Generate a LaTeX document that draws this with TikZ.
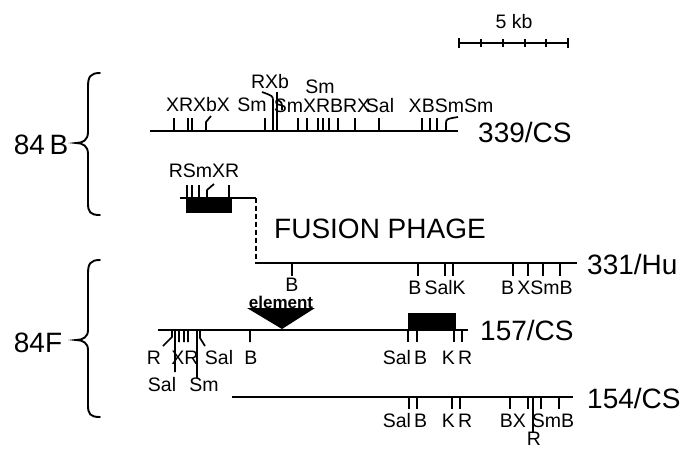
\documentclass[tikz,border=0pt]{standalone}
\usepackage{fontspec}
\setmainfont{Liberation Sans}
\tikzset{
  mapline/.style={line width=2.6pt, line cap=butt},
  site/.style={line width=1.7pt, line cap=butt, line join=round},
  sitelabel/.style={font=\fontsize{19.5}{19.5}\selectfont, inner sep=0pt},
  clonelabel/.style={font=\fontsize{28}{28}\selectfont, inner sep=0pt},
  insert/.style={fill=black},
  bracket/.style={line width=1.9pt, line cap=round},
}
\begin{document}
\begin{tikzpicture}[x=1pt, y=-1pt]
\useasboundingbox (0,0) rectangle (697,451);
% scale bar
\draw[site] (459,43) -- (568,43);
\draw[site] (459,38) -- (459,48) (481,39) -- (481,47) (503,39) -- (503,47)
  (525,39) -- (525,47) (546,39) -- (546,47) (568,38) -- (568,48);
\node[sitelabel] (kb) at (514,22) {5 kb};
% braces
\draw[bracket] (100,73) .. controls (90,73) and (88,77) .. (88,87) -- (88,132)
  .. controls (88,140) and (83,143) .. (76,143) .. controls (83,143) and (88,146) .. (88,154)
  -- (88,203) .. controls (88,212) and (90,215) .. (100,215);
\node[clonelabel] (b84) at (41,145) {84\,B};
\draw[bracket] (100,260) .. controls (90,260) and (88,264) .. (88,274) -- (88,330)
  .. controls (88,337) and (83,340) .. (76,340) .. controls (83,340) and (88,343) .. (88,350)
  -- (88,405) .. controls (88,414) and (90,417) .. (100,417);
\node[clonelabel] (f84) at (38,343) {84F};
% 339/CS
\draw[mapline] (150,131) -- (458,131);
\draw[site] (174,131) -- ++(0,-13) (188,131) -- ++(0,-13) (192,131) -- ++(0,-13)
  (206,131) -- (206,122) -- (211,116);
\draw[site] (265,131) -- ++(0,-13)
  (273,131) -- (273,101) .. controls (273,96) .. (262,92)
  (277,131) -- (277,92)
  (277,100) .. controls (282,102) .. (282,110);
\draw[site] (298,131) -- ++(0,-13) (307,131) -- ++(0,-13) (318,131) -- ++(0,-13)
  (323,131) -- ++(0,-13) (329,131) -- ++(0,-13) (338,131) -- ++(0,-13)
  (355,131) -- ++(0,-13) (379,131) -- ++(0,-13) (422,131) -- ++(0,-13)
  (430,131) -- ++(0,-13) (437,131) -- ++(0,-13)
  (446,131) -- (446,124) .. controls (446,119) .. (458,117);
\node[sitelabel] (l1) at (198,105) {XRXbX};
\node[sitelabel] (l2) at (252,105) {Sm};
\node[sitelabel] (l3) at (270,82) {RXb};
\node[sitelabel] (l4) at (320,87) {Sm};
\node[sitelabel] (l5) at (322,106) {SmXRBRX};
\node[sitelabel] (l6) at (380,106) {Sal};
\node[sitelabel] (l7) at (451,106) {XBSmSm};
\node[clonelabel, anchor=west] (cs339) at (478,132) {339/CS};
% fusion phage
\draw[mapline] (180,198) -- (256,198);
\fill[insert] (186,198) rectangle (232,213);
\draw[site] (187,198) -- ++(0,-13) (192,198) -- ++(0,-13) (199,198) -- ++(0,-13)
  (207,198) -- (207,190) -- (214,184) (229,198) -- ++(0,-13);
\node[sitelabel] (l8) at (204,171) {RSmXR};
\draw[site, dash pattern=on 5pt off 3pt] (256,198) -- (256,263);
\node[clonelabel] (fusion) at (380,229) {FUSION PHAGE};
% 331/Hu
\draw[mapline] (255,263) -- (577,263);
\draw[site] (292,263) -- ++(0,13) (418,263) -- ++(0,13) (445,263) -- ++(0,13)
  (453,263) -- ++(0,13) (513,263) -- ++(0,13) (528,263) -- ++(0,13)
  (543,263) -- ++(0,13) (560,263) -- ++(0,13);
\node[sitelabel] (l9) at (292,285) {B};
\node[sitelabel] (l10) at (437,288) {B\,SalK};
\node[sitelabel] (l11) at (537,288) {B\,XSmB};
\node[clonelabel, anchor=west] (hu331) at (587,264) {331/Hu};
% 157/CS
\node[sitelabel, font=\fontsize{17}{17}\selectfont\bfseries] (element) at (281,302) {element};
\fill[insert] (247,308) -- (315,308) -- (282,329) -- cycle;
\draw[mapline] (158,330) -- (468,330);
\fill[insert] (408,313) rectangle (456,330);
\draw[site] (172,330) -- (172,337) -- (163,346)
  (175,330) -- (175,372) (179,330) -- ++(0,12) (184,330) -- ++(0,12)
  (188,330) -- ++(0,12) (197,330) -- (197,378)
  (200,330) -- (200,338) -- (205,346) (250,330) -- ++(0,12);
\draw[site] (408,330) -- ++(0,12) (417,330) -- ++(0,12)
  (454,330) -- ++(0,12) (462,330) -- ++(0,12);
\node[sitelabel] (l12) at (154,358) {R};
\node[sitelabel] (l13) at (185,358) {XR};
\node[sitelabel] (l14) at (219,358) {Sal};
\node[sitelabel] (l15) at (251,358) {B};
\node[sitelabel] (l16) at (162,385) {Sal};
\node[sitelabel] (l17) at (204,385) {Sm};
\node[sitelabel] (l18) at (405,358) {Sal\,B};
\node[sitelabel] (l19) at (457,358) {K\,R};
\node[clonelabel, anchor=west] (cs157) at (480,330) {157/CS};
% 154/CS
\draw[mapline] (232,397) -- (573,397);
\draw[site] (409,397) -- ++(0,12) (417,397) -- ++(0,12) (452,397) -- ++(0,12)
  (460,397) -- ++(0,12) (510,397) -- ++(0,12) (528,397) -- ++(0,12)
  (533,397) -- (533,432) (541,397) -- ++(0,12) (559,397) -- ++(0,12);
\node[sitelabel] (l20) at (405,421) {Sal\,B};
\node[sitelabel] (l21) at (457,421) {K\,R};
\node[sitelabel] (l22) at (537,421) {BX\hspace{6pt}SmB};
\node[sitelabel] (l23) at (534,439) {R};
\node[clonelabel, anchor=west] (cs154) at (587,398) {154/CS};
\end{tikzpicture}
\end{document}
